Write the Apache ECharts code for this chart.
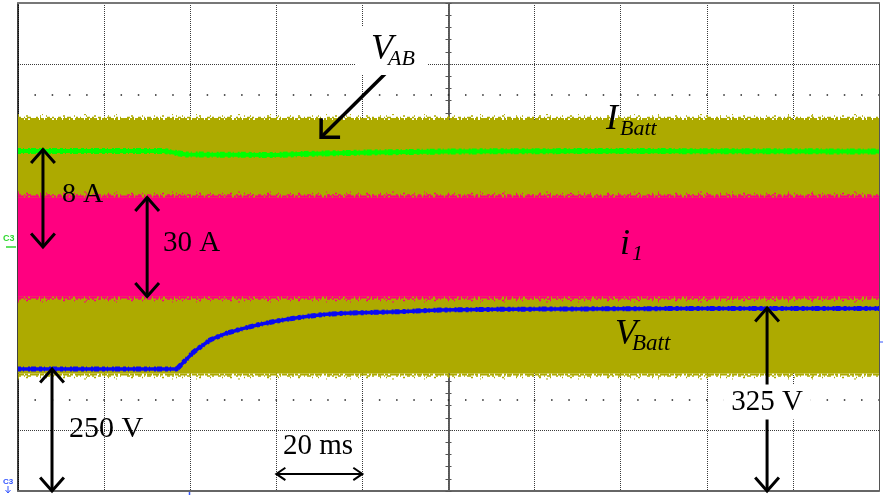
<!DOCTYPE html>
<html>
<head>
<meta charset="utf-8">
<script src="https://cdn.jsdelivr.net/npm/echarts@6/dist/echarts.min.js"></script>
<style>
  html, body { margin: 0; padding: 0; background: #fff; }
  #chart { width: 883px; height: 495px; }
</style>
</head>
<body>
<div id="chart"></div>
<script>
// ---- Screen: 10 horizontal divisions of 20 ms, 8 vertical divisions ----
const TIME_MIN = 0, TIME_MAX = 200, TIME_STEP = 20;
const DIV_MIN = -4, DIV_MAX = 4;
const refLevels = [2.5, -2.5];            // 0 % / 100 % dotted reference rows (div)

// ---- Battery voltage V_Batt (blue), V ----
const vBattTime = [0, 36.9, 40.8, 44.7, 48.5, 52.4, 56.3, 60.1, 64.0, 67.9, 71.7, 75.6, 79.5, 88.7, 98.0, 111.9, 125.9, 158.4, 200];
const vBatt     = [250, 250, 271, 286, 294, 300, 305, 309, 312.3, 315.2, 317.3, 318.5, 319.2, 320.5, 322.5, 323.4, 323.8, 324.4, 324.5];

// ---- Battery current I_Batt (green), A ----
const iBattTime = [0, 34, 39, 60, 65.5, 81.8, 100, 135, 200];
const iBatt     = [7.87, 7.87, 7.58, 7.54, 7.62, 7.75, 7.83, 7.87, 7.83];

// ---- Inverter current i_1 envelope (magenta), A ----
const i1Time  = [0, 200];
const i1Upper = [15, 15];
const i1Lower = [-15, -15];

// ---- Bridge voltage V_AB envelope (olive), V ----
const vabTime  = [0, 200];
const vabUpper = [312, 312];
const vabLower = [-311, -311];

// ---- Annotation arrows: [t1, v1, t2, v2] in each channel's units ----
const arrowIBatt = [[5.8, 8, 5.8, 0]];                          // 8 A
const arrowI1    = [[30, 15, 30, -15]];                         // 30 A
const arrowVBatt = [[7.9, 250, 7.9, 100], [174, 325, 174, 100]]; // 250 V, 325 V
const arrowTime  = [[60, -3.72, 80, -3.72]];                    // 20 ms
const arrowVab   = [[85.7, 2.87, 70.4, 1.80]];                  // pointer to V_AB

// ---- Channel axis ranges (value at bottom / top of screen) ----
const V_BATT_RANGE = [100, 700];   // 75 V/div
const I_BATT_RANGE = [-20, 20];    // 5 A/div
const I1_RANGE     = [-74, 74];    // 18.5 A/div
const VAB_RANGE    = [-600, 600];  // 150 V/div

const OLIVE = '#adaa00', PINK = '#ff0080', GREEN = '#00ff00', BLUE = '#0a0af2';
const GRIDLINE = '#3a3a3a';
const SERIF = "'Liberation Serif','Times New Roman',serif";
const GRID = { left: 18, right: 4, top: 3, bottom: 4 };
const W = 883, H = 495;
const PX_PER_SUBDIV_X = (W - GRID.left - GRID.right) / ((TIME_MAX - TIME_MIN) / TIME_STEP) / 5;

const chart = echarts.init(document.getElementById('chart'), null, { renderer: 'canvas' });

function hiddenY(range) {
  return { type: 'value', min: range[0], max: range[1], show: false };
}
function centerAxis(inside) {
  return {
    type: 'value', min: DIV_MIN, max: DIV_MAX, interval: 0.2, position: 'left',
    axisLine: { show: true, onZero: true, onZeroAxisIndex: 2, lineStyle: { color: '#555', width: 1.5 } },
    axisTick: { show: true, inside: inside, length: 3, lineStyle: { color: '#555', width: 1 } },
    axisLabel: { show: false }, splitLine: { show: false }
  };
}

// filled envelope between lower and upper edges
function bandSeries(times, lo, hi, yAxisIndex, color) {
  return {
    type: 'custom', xAxisIndex: 0, yAxisIndex, silent: true, clip: true,
    data: times.map((t, i) => [t, lo[i], hi[i]]),
    encode: { x: 0, y: [1, 2] },
    renderItem(params, api) {
      if (params.dataIndex !== 0) return null;
      const top = times.map((t, i) => api.coord([t, hi[i]]));
      const bot = times.map((t, i) => api.coord([t, lo[i]])).reverse();
      return { type: 'polygon', shape: { points: top.concat(bot) }, style: { fill: color } };
    }
  };
}

// ragged noise fringe just outside a band edge: dense near the edge, sparse further out
function edgeFuzz(times, values, yAxisIndex, range, dir, color) {
  const unitsPerPx = (range[1] - range[0]) / (H - GRID.top - GRID.bottom);
  const layers = [
    { off: 1.0, width: 2, dash: [6, 1, 3, 2, 9, 1, 4, 1, 7, 2, 2, 1, 5, 1] },
    { off: 2.5, width: 1.5, dash: [3, 3, 1, 2, 4, 5, 2, 2, 1, 6, 3, 2, 2, 4] },
    { off: 4.0, width: 1.5, dash: [1, 7, 2, 12, 1, 5, 1, 16, 2, 9, 1, 11] },
    { off: 5.5, width: 1, dash: [1, 23, 1, 41, 2, 30, 1, 55] }
  ];
  return layers.map(L => ({
    type: 'line', xAxisIndex: 0, yAxisIndex, silent: true, symbol: 'none',
    data: times.map((t, i) => [t, values[i] + dir * L.off * unitsPerPx]),
    lineStyle: { color, width: L.width, type: L.dash, cap: 'butt' }
  }));
}

function traceSeries(times, values, yAxisIndex, color, width, fringeWidth) {
  const data = times.map((t, i) => [t, values[i]]);
  return [
    { type: 'line', xAxisIndex: 0, yAxisIndex, silent: true, symbol: 'none', data,
      lineStyle: { color, width } },
    { type: 'line', xAxisIndex: 0, yAxisIndex, silent: true, symbol: 'none', data,
      lineStyle: { color, width: fringeWidth, type: [3, 2, 1, 4, 2, 1, 5, 3], cap: 'butt' } }
  ];
}

// open-headed arrows drawn through the axes
function arrowSeries(yAxisIndex, data, opt) {
  return {
    type: 'custom', xAxisIndex: 0, yAxisIndex, data, silent: true, z: 6, clip: false,
    renderItem(params, api) {
      const a = api.coord([api.value(0), api.value(1)]);
      const b = api.coord([api.value(2), api.value(3)]);
      const dx = b[0] - a[0], dy = b[1] - a[1];
      const len = Math.hypot(dx, dy);
      const ux = dx / len, uy = dy / len;
      const c = Math.cos(opt.angle), s = Math.sin(opt.angle);
      const head = (p, vx, vy) => {
        const r1 = [vx * c - vy * s, vx * s + vy * c];
        const r2 = [vx * c + vy * s, -vx * s + vy * c];
        return {
          type: 'polyline',
          shape: { points: [[p[0] + r1[0] * opt.head, p[1] + r1[1] * opt.head], p, [p[0] + r2[0] * opt.head, p[1] + r2[1] * opt.head]] },
          style: { stroke: '#000', fill: null, lineWidth: opt.width, lineJoin: 'miter' }
        };
      };
      const children = [{
        type: 'line', shape: { x1: a[0], y1: a[1], x2: b[0], y2: b[1] },
        style: { stroke: '#000', lineWidth: opt.width, lineCap: 'butt' }
      }];
      if (opt.both) children.push(head(a, ux, uy));
      children.push(head(b, -ux, -uy));
      return { type: 'group', children };
    }
  };
}

function label(text, x, y, size, opts) {
  opts = opts || {};
  const align = opts.align || 'left';
  return {
    type: 'text', z: 100, x, y,
    style: Object.assign({
      text, fill: '#000',
      font: (opts.italic ? 'italic ' : '') + size + 'px ' + SERIF,
      textAlign: align, align: align, textVerticalAlign: 'middle', verticalAlign: 'middle'
    }, opts.style || {})
  };
}

const series = [];
// dotted reference rows
series.push({
  type: 'line', xAxisIndex: 0, yAxisIndex: 0, silent: true, symbol: 'none',
  data: [[TIME_MIN, 0], [TIME_MAX, 0]], lineStyle: { opacity: 0 },
  markLine: {
    silent: true, symbol: ['none', 'none'], label: { show: false },
    lineStyle: { color: '#222', width: 1.5, type: [1.5, PX_PER_SUBDIV_X - 1.5], dashOffset: 0.75 },
    emphasis: { disabled: true },
    data: refLevels.map(v => ({ yAxis: v }))
  }
});
// V_AB band
series.push(bandSeries(vabTime, vabLower, vabUpper, 5, OLIVE));
series.push(...edgeFuzz(vabTime, vabUpper, 5, VAB_RANGE, 1, OLIVE));
series.push(...edgeFuzz(vabTime, vabLower, 5, VAB_RANGE, -1, OLIVE));
// i_1 band
series.push(bandSeries(i1Time, i1Lower, i1Upper, 4, PINK));
series.push(...edgeFuzz(i1Time, i1Upper, 4, I1_RANGE, 1, PINK));
series.push(...edgeFuzz(i1Time, i1Lower, 4, I1_RANGE, -1, PINK));
// I_Batt and V_Batt traces
series.push(...traceSeries(iBattTime, iBatt, 3, GREEN, 4, 6));
series.push(...traceSeries(vBattTime, vBatt, 2, BLUE, 3.5, 5));
// annotation arrows
const VERT = { width: 3, head: 18, angle: 0.72, both: true };
series.push(arrowSeries(3, arrowIBatt, VERT));
series.push(arrowSeries(4, arrowI1, VERT));
series.push(arrowSeries(2, arrowVBatt, VERT));
series.push(arrowSeries(0, arrowTime, { width: 2, head: 11, angle: 0.6, both: true }));
series.push(arrowSeries(0, arrowVab, { width: 3.5, head: 19, angle: 0.785, both: false }));

const option = {
  animation: false,
  backgroundColor: '#fff',
  grid: Object.assign({ containLabel: false }, GRID),
  xAxis: [
    { type: 'value', min: TIME_MIN, max: TIME_MAX, interval: TIME_STEP, position: 'bottom',
      axisLine: { onZero: false, lineStyle: { color: '#666', width: 2 } },
      axisTick: { show: false }, axisLabel: { show: false },
      splitLine: { show: true, lineStyle: { color: GRIDLINE, width: 1, type: [1, 1] } } },
    { type: 'value', min: TIME_MIN, max: TIME_MAX, position: 'top',
      axisLine: { onZero: false, lineStyle: { color: '#777', width: 2 } },
      axisTick: { show: false }, axisLabel: { show: false }, splitLine: { show: false } },
    { type: 'value', min: -5, max: 5, show: false }
  ],
  yAxis: [
    { type: 'value', min: DIV_MIN, max: DIV_MAX, interval: 1, position: 'left',
      axisLine: { onZero: false, lineStyle: { color: '#000', width: 1.5 } },
      axisTick: { show: false }, axisLabel: { show: false },
      splitLine: { show: true, lineStyle: { color: GRIDLINE, width: 1, type: [1, 1] } } },
    { type: 'value', min: DIV_MIN, max: DIV_MAX, position: 'right',
      axisLine: { show: true, onZero: false, lineStyle: { color: '#555', width: 1 } },
      axisTick: { show: false }, axisLabel: { show: false }, splitLine: { show: false } },
    hiddenY(V_BATT_RANGE),
    hiddenY(I_BATT_RANGE),
    hiddenY(I1_RANGE),
    hiddenY(VAB_RANGE),
    centerAxis(true),
    centerAxis(false)
  ],
  series,
  graphic: [
    // V_AB tag
    { type: 'rect', z: 90, shape: { x: 355, y: 27, width: 73, height: 48 }, style: { fill: '#fff' } },
    label('V', 371, 50, 36, { italic: true }),
    label('AB', 388, 59, 22, { italic: true }),
    // I_Batt
    label('I', 606, 120, 36, { italic: true }),
    label('Batt', 620, 129.5, 22, { italic: true }),
    // i_1
    label('i', 620, 245, 36, { italic: true }),
    label('1', 632, 254, 22, { italic: true }),
    // V_Batt
    label('V', 615, 335, 36, { italic: true }),
    label('Batt', 632, 344, 23, { italic: true }),
    // magnitudes
    label('8 A', 62, 195, 28),
    label('30 A', 163, 243.5, 29),
    label('250 V', 69, 429, 30),
    label('325 V', 767, 402, 29, { align: 'center', style: { backgroundColor: '#fff', padding: [3, 8, 3, 8] } }),
    label('20 ms', 283, 446, 29),
    // channel markers
    { type: 'text', z: 100, x: 3, y: 239, style: { text: 'C3', font: 'bold 9px sans-serif', fill: '#2fd82f', verticalAlign: 'middle', textVerticalAlign: 'middle' } },
    { type: 'line', z: 100, shape: { x1: 6, y1: 247, x2: 16, y2: 247 }, style: { stroke: '#2fd82f', lineWidth: 1.5 } },
    { type: 'text', z: 100, x: 3, y: 482, style: { text: 'C3', font: 'bold 8px sans-serif', fill: '#3355ff', verticalAlign: 'middle', textVerticalAlign: 'middle' } },
    { type: 'line', z: 100, shape: { x1: 8, y1: 486, x2: 8, y2: 493 }, style: { stroke: '#3355ff', lineWidth: 1 } },
    { type: 'polyline', z: 100, shape: { points: [[5.5, 490], [8, 493], [10.5, 490]] }, style: { stroke: '#3355ff', fill: null, lineWidth: 1 } },
    { type: 'line', z: 100, shape: { x1: 880, y1: 342, x2: 883, y2: 342 }, style: { stroke: '#3355ff', lineWidth: 1 } },
    { type: 'line', z: 100, shape: { x1: 189.5, y1: 492, x2: 189.5, y2: 495 }, style: { stroke: '#3355ff', lineWidth: 1.5 } }
  ]
};

chart.setOption(option);
</script>
</body>
</html>
